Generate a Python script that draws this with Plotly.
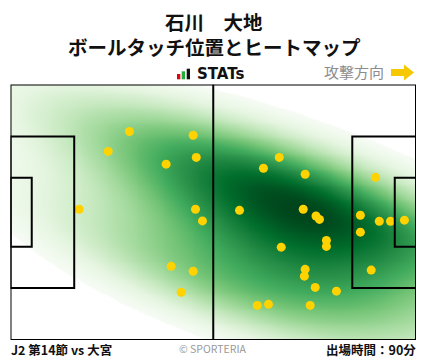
import numpy as np
import plotly.graph_objects as go

# ---------------- data ----------------
title_name = "石川　大地"
title_sub = "ボールタッチ位置とヒートマップ"
logo_text = "STATs"
direction_label = "攻撃方向"
footer_left = "J2 第14節 vs 大宮"
footer_center = "© SPORTERIA"
footer_right = "出場時間：90分"

# ball touch positions (metres; pitch 105 x 68, attacking to the right)
touch_x = [30.8, 47.3, 25.3, 48.1, 40.3, 17.8, 47.9, 49.7, 41.6, 47.3, 44.2,
           69.6, 65.5, 76.3, 59.3, 75.8, 79.1, 80.0, 81.8, 81.8, 70.1,
           94.5, 90.6, 95.5, 98.4, 102.0, 90.6, 93.4, 76.3, 76.1, 78.9,
           84.4, 63.9, 66.8, 77.6]
touch_y = [55.5, 54.5, 50.2, 48.6, 46.8, 34.8, 34.8, 31.7, 19.6, 18.3, 12.7,
           48.6, 45.7, 44.1, 34.5, 34.8, 33.0, 32.1, 26.5, 24.9, 24.7,
           43.3, 33.2, 31.6, 31.6, 31.9, 28.7, 18.6, 18.8, 17.0, 14.0,
           13.0, 9.2, 9.5, 9.2]

PITCH_L, PITCH_W = 105.0, 68.0
# smoothing kernel (metres) for the density surface
KERNEL_SX, KERNEL_SY, KERNEL_RHO = 28.0, 13.0, -0.8
THRESH = 0.01

# ---------------- layout geometry (pixels) ----------------
W, H = 428, 359
PX0, PX1 = 10.5, 416.0
PY_TOP, PY_BOT = 84.5, 340.0

def px(x):
    return x / W

def py(y):
    return 1 - y / H

# ---------------- KDE (clipped to the pitch) ----------------
pts = np.vstack([touch_x, touch_y])
n = pts.shape[1]
cov = np.array([[KERNEL_SX ** 2, KERNEL_RHO * KERNEL_SX * KERNEL_SY],
                [KERNEL_RHO * KERNEL_SX * KERNEL_SY, KERNEL_SY ** 2]])
inv = np.linalg.inv(cov)
norm = 1.0 / (2 * np.pi * np.sqrt(np.linalg.det(cov)) * n)


def kde(gx, gy):
    dx = gx[..., None] - pts[0]
    dy = gy[..., None] - pts[1]
    q = inv[0, 0] * dx * dx + 2 * inv[0, 1] * dx * dy + inv[1, 1] * dy * dy
    return norm * np.exp(-0.5 * q).sum(-1)

gx = np.linspace(0, PITCH_L, 211)
gy = np.linspace(0, PITCH_W, 137)
GX, GY = np.meshgrid(gx, gy)
Z = kde(GX, GY)

order = np.sort(Z.ravel())
cm = np.cumsum(order)
cm /= cm[-1]
thresh = order[np.searchsorted(cm, THRESH)]
zmax = Z.max()
tf = thresh / zmax

greens = ['rgb(247,252,245)', 'rgb(229,245,224)', 'rgb(199,233,192)',
          'rgb(161,217,155)', 'rgb(116,196,118)', 'rgb(65,171,93)',
          'rgb(35,139,69)', 'rgb(0,109,44)', 'rgb(0,68,27)']
cscale = [[0, 'white'], [max(tf - 1e-6, 0), 'white']]
for i, c in enumerate(greens):
    cscale.append([tf + (1 - tf) * i / (len(greens) - 1), c])

fig = go.Figure()
fig.add_trace(go.Heatmap(x=gx, y=gy, z=Z, zmin=0, zmax=zmax, colorscale=cscale,
                         zsmooth='best', showscale=False, hoverinfo='skip'))
fig.add_trace(go.Scatter(x=touch_x, y=touch_y, mode='markers',
                         marker=dict(size=9, color='#FFD200', line=dict(width=0)),
                         hoverinfo='skip', showlegend=False))

# ---------------- pitch lines ----------------
line = dict(color='black', width=2)
shapes = []
shapes.append(dict(type='rect', x0=0, x1=PITCH_L, y0=0, y1=PITCH_W, line=line, layer='above'))
shapes.append(dict(type='line', x0=PITCH_L / 2, x1=PITCH_L / 2, y0=0, y1=PITCH_W, line=line, layer='above'))
pa_d, pa_w = 16.5, 40.32
ga_d, ga_w = 5.5, 18.32
for x0, x1 in [(0, pa_d), (PITCH_L - pa_d, PITCH_L)]:
    shapes.append(dict(type='rect', x0=x0, x1=x1, y0=(PITCH_W - pa_w) / 2, y1=(PITCH_W + pa_w) / 2,
                       line=line, layer='above'))
for x0, x1 in [(0, ga_d), (PITCH_L - ga_d, PITCH_L)]:
    shapes.append(dict(type='rect', x0=x0, x1=x1, y0=(PITCH_W - ga_w) / 2, y1=(PITCH_W + ga_w) / 2,
                       line=line, layer='above'))
for s in shapes:
    s['xref'] = 'x'
    s['yref'] = 'y'

# ---------------- header decorations ----------------
# STATs logo bars
for (x0, x1, y0, y1, col) in [(177, 180.3, 74, 79.3, '#E60012'),
                              (181.7, 185, 71.3, 79.3, '#22AC38'),
                              (186.7, 190, 68.7, 79.3, '#111111')]:
    shapes.append(dict(type='rect', xref='paper', yref='paper', x0=px(x0), x1=px(x1),
                       y0=py(y1), y1=py(y0), fillcolor=col, line=dict(width=0)))
# attack direction arrow
ax0, ax1, ahx, ay0, ay1, aby0, aby1 = 391, 414, 404, 64.5, 80.5, 69, 76
path = (f"M {px(ax0)},{py(aby0)} L {px(ahx)},{py(aby0)} L {px(ahx)},{py(ay0)} "
        f"L {px(ax1)},{py((ay0 + ay1) / 2)} L {px(ahx)},{py(ay1)} L {px(ahx)},{py(aby1)} "
        f"L {px(ax0)},{py(aby1)} Z")
shapes.append(dict(type='path', xref='paper', yref='paper', path=path,
                   fillcolor='#F5C800', line=dict(width=0)))

JP = "Noto Sans CJK JP"
ann = []
ann.append(dict(text=f"<b>{title_name}</b>", x=px(214), y=py(21), font=dict(size=19.5, color='#111', family=JP),
                xanchor='center', yanchor='middle'))
ann.append(dict(text=f"<b>{title_sub}</b>", x=px(214), y=py(46.5), font=dict(size=19.5, color='#111', family=JP),
                xanchor='center', yanchor='middle'))
ann.append(dict(text=f"<b>{logo_text}</b>", x=px(194.5), y=py(73.8), font=dict(size=15, color='#111', family='DejaVu Sans'),
                xanchor='left', yanchor='middle'))
ann.append(dict(text=direction_label, x=px(386), y=py(72), font=dict(size=15, color='#8c8c8c', family=JP),
                xanchor='right', yanchor='middle'))
ann.append(dict(text=f"<b>{footer_left}</b>", x=px(9), y=py(349.5), font=dict(size=12.5, color='#111', family=JP),
                xanchor='left', yanchor='middle'))
ann.append(dict(text=footer_center, x=px(213), y=py(348.5), font=dict(size=10.5, color='#999', family=JP),
                xanchor='center', yanchor='middle'))
ann.append(dict(text=f"<b>{footer_right}</b>", x=px(418), y=py(349.5), font=dict(size=12.5, color='#111', family=JP),
                xanchor='right', yanchor='middle'))
for a in ann:
    a.update(xref='paper', yref='paper', showarrow=False)

fig.update_layout(
    width=W, height=H, autosize=False,
    margin=dict(l=0, r=0, t=0, b=0, pad=0),
    paper_bgcolor='white', plot_bgcolor='white',
    xaxis=dict(domain=[px(PX0), px(PX1)], range=[0, PITCH_L], visible=False, fixedrange=True),
    yaxis=dict(domain=[py(PY_BOT), py(PY_TOP)], range=[0, PITCH_W], visible=False, fixedrange=True),
    shapes=shapes, annotations=ann, showlegend=False,
)

fig.write_html("out.html", config={'displayModeBar': False},
               post_script="document.body.style.margin='0';")
